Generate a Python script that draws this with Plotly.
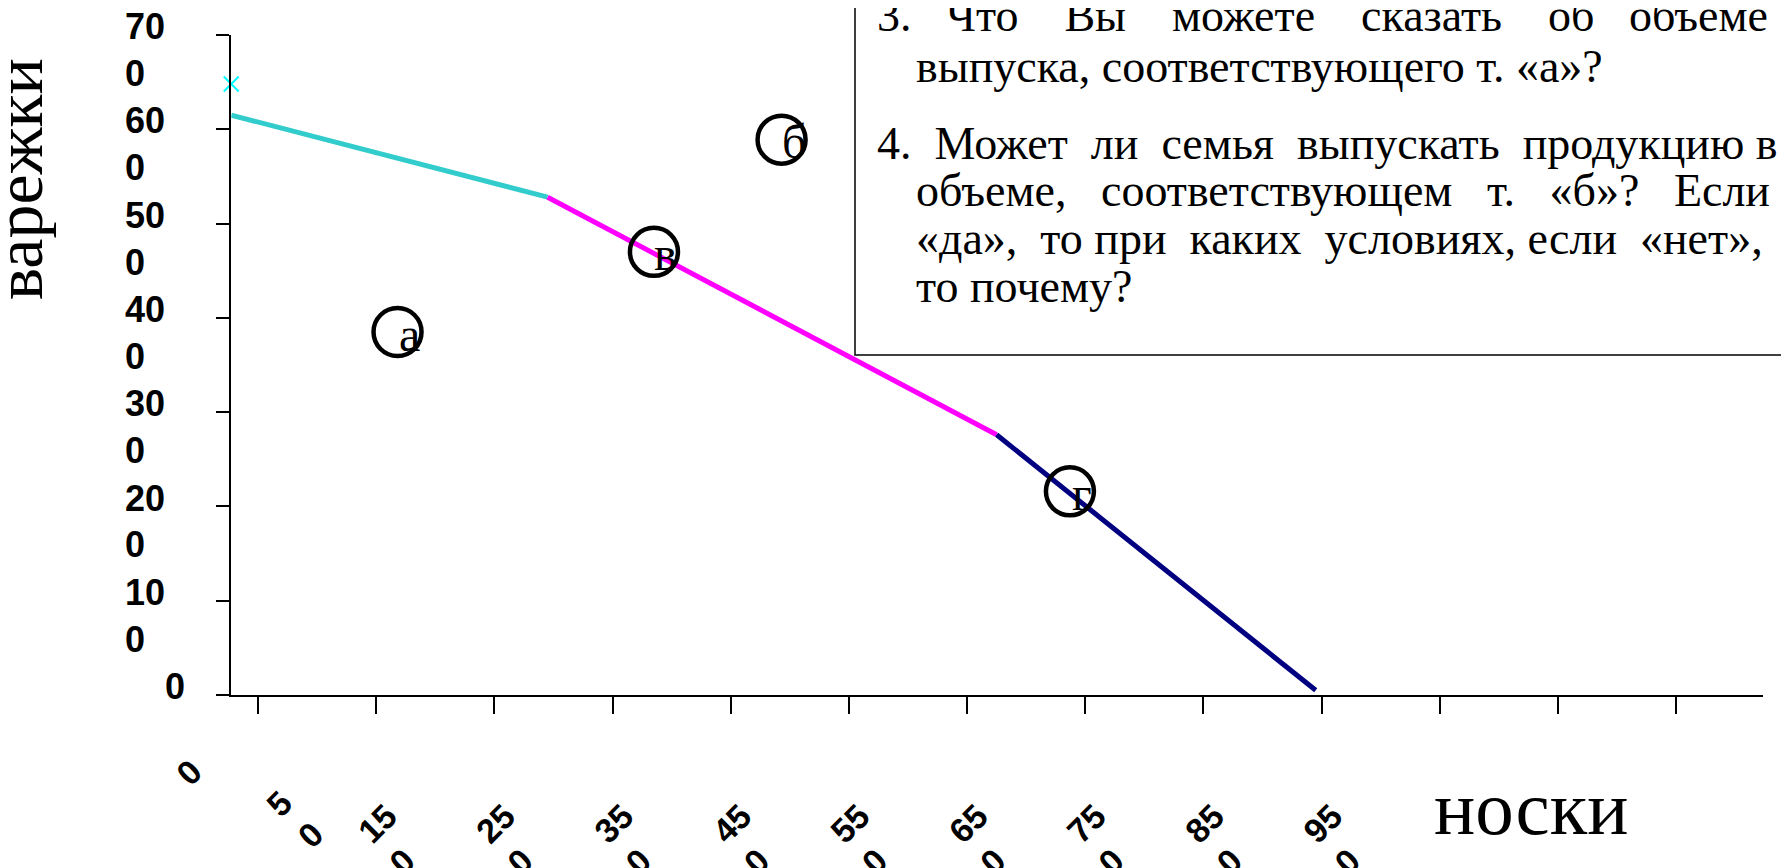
import plotly.graph_objects as go

# ---------------- data ----------------
frontier_socks = [27.3, 295, 675, 945]
frontier_mittens = [615, 528, 276, 5]
segment_colors = ["#33CCCC", "#FF00FF", "#000080"]

marker_socks = [27.3]
marker_mittens = [648]

point_labels = ["а", "б", "в", "г"]
point_socks = [168, 493, 385, 737]
point_mittens = [385, 589, 470, 216]

y_tick_values = [0, 100, 200, 300, 400, 500, 600, 700]
x_label_values = [0, 50, 150, 250, 350, 450, 550, 650, 750, 850, 950]
x_tick_mark_values = [50, 150, 250, 350, 450, 550, 650, 750, 850, 950, 1050, 1150, 1250]

y_title = "варежки"
x_title = "носки"

NB = "\u00a0"
question_lines = [
    ["3.", "Что", "Вы", "можете", "сказать", "об", "объеме"],
    ["выпуска,", "соответствующего", "т.", "«а»?"],
    ["4.", "Может", "ли", "семья", "выпускать", "продукцию", "в"],
    ["объеме,", "соответствующем", "т.", "«б»?", "Если"],
    ["«да»,", "то", "при", "каких", "условиях,", "если", "«нет»,"],
    ["то", "почему?"],
]
# number of spaces in each gap (imitates the justified paragraph)
line_gaps = [
    [3, 4, 4, 4, 4, 3],
    [1, 1, 1],
    [2, 2, 2, 2, 2, 1],
    [3, 3, 3, 3],
    [2, 1, 2, 2, 1, 2],
    [1],
]

# ---------------- geometry (reference pixels) ----------------
OFF = 8                      # page body margin of the html page
W, H = 1789 - OFF, 868 - OFF
PL, PR, PT, PB = 199 - OFF, 1763 - OFF, 35 - OFF, 695 - OFF
ML, MR, MT, MB = PL, W - PR, PT, H - PB
X_MAX = 1323.5
Y_AXIS_AT = 27.3


def px2x(px):
    return (px - OFF - PL) / (PR - PL)


def py2y(py):
    return (PB - (py - OFF)) / (PB - PT)


def ytext(v):
    s = str(v)
    if len(s) == 1:
        return s + "<br>" + NB
    return s[:-1] + NB * 2 + "<br>" + s[-1] + NB * 4


def xtext(v):
    s = str(v)
    if len(s) == 1:
        return s
    first = s[:-1]
    extra = len(first) - 1
    return (NB + "<br>" + first + NB * (2 * extra)
            + "<br>" + s[-1] + NB * (4 * extra))


def join_words(words, gaps):
    out = words[0]
    for w, g in zip(words[1:], gaps):
        out += NB * g + w
    return out


fig = go.Figure()

for i in range(3):
    fig.add_trace(go.Scatter(
        x=frontier_socks[i:i + 2], y=frontier_mittens[i:i + 2],
        mode="lines", line=dict(color=segment_colors[i], width=5),
        showlegend=False, hoverinfo="skip", cliponaxis=False))

fig.add_trace(go.Scatter(
    x=marker_socks, y=marker_mittens, mode="markers",
    marker=dict(symbol="x-thin", size=15, color="#00FFFF",
                line=dict(color="#00FFFF", width=2)),
    showlegend=False, cliponaxis=False))

fig.add_trace(go.Scatter(
    x=point_socks, y=point_mittens, mode="markers",
    marker=dict(symbol="circle-open", size=48, color="black",
                line=dict(color="black", width=4.5)),
    showlegend=False, cliponaxis=False))

# helper trace so that the label-only axis exists
fig.add_trace(go.Scatter(x=[None], y=[None], xaxis="x2", yaxis="y",
                         showlegend=False, hoverinfo="skip"))

annotations = []
for lab, sx, sy in zip(point_labels, point_socks, point_mittens):
    annotations.append(dict(
        x=sx, y=sy, xref="x", yref="y", text=lab, showarrow=False,
        xanchor="center", yanchor="middle",
        font=dict(family="Liberation Serif", size=48, color="black"),
        xshift=12, yshift=-2))

annotations.append(dict(
    text=y_title, textangle=-90, x=px2x(19), y=py2y(179),
    xref="paper", yref="paper", xanchor="center", yanchor="middle",
    showarrow=False,
    font=dict(family="Liberation Serif", size=68, color="black")))
annotations.append(dict(
    text=x_title, x=px2x(1531), y=py2y(808),
    xref="paper", yref="paper", xanchor="center", yanchor="middle",
    showarrow=False,
    font=dict(family="Liberation Serif", size=77, color="black")))

line_starts = [875, 914, 875, 914, 914, 914]
line_centers = [15, 67, 143, 190, 238, 286]
for words, gaps, sx, cy in zip(question_lines, line_gaps, line_starts, line_centers):
    annotations.append(dict(
        text=join_words(words, gaps), x=px2x(sx), y=py2y(cy),
        xref="paper", yref="paper", xanchor="left", yanchor="middle",
        showarrow=False,
        font=dict(family="Liberation Serif", size=46, color="black")))

fig.update_layout(
    width=W, height=H,
    margin=dict(l=ML, r=MR, t=MT, b=MB, pad=0, autoexpand=False),
    paper_bgcolor="white", plot_bgcolor="rgba(0,0,0,0)",
    showlegend=False,
    xaxis=dict(
        domain=[Y_AXIS_AT / X_MAX, 1], range=[Y_AXIS_AT, X_MAX],
        showline=True, linecolor="black", linewidth=2,
        ticks="outside", ticklen=17, tickwidth=1.5, tickcolor="black",
        tickmode="array", tickvals=x_tick_mark_values,
        showticklabels=False, showgrid=False, zeroline=False),
    xaxis2=dict(
        domain=[0, 1], range=[0, X_MAX], anchor="y", side="bottom",
        showline=False, ticks="", showgrid=False, zeroline=False,
        tickmode="array", tickvals=x_label_values,
        ticktext=[xtext(v) for v in x_label_values],
        tickangle=-45, ticklabelstandoff=49, ticklabelshift=-7,
        ticklabeloverflow="allow",
        tickfont=dict(family="Liberation Sans", size=34, color="black",
                      weight="bold")),
    yaxis=dict(
        domain=[0, 1], range=[0, 700], anchor="x",
        showline=True, linecolor="black", linewidth=2,
        ticks="outside", ticklen=13, tickwidth=1.5, tickcolor="black",
        tickmode="array", tickvals=y_tick_values,
        ticktext=[ytext(v) for v in y_tick_values],
        ticklabelstandoff=24, ticklabelshift=15,
        ticklabeloverflow="allow",
        tickfont=dict(family="Liberation Sans", size=36, color="black",
                      weight="bold"),
        showgrid=False, zeroline=False),
    shapes=[dict(
        type="rect", xref="paper", yref="paper",
        x0=px2x(855), x1=px2x(1788), y0=py2y(355), y1=py2y(-10),
        line=dict(color="black", width=1.5), fillcolor="white",
        layer="below")],
    annotations=annotations,
)

fig.write_html("out.html")
